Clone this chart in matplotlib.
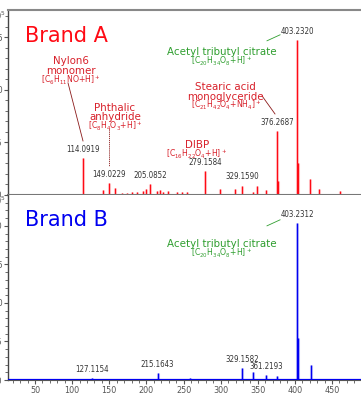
import matplotlib
matplotlib.use("Agg")
import matplotlib.pyplot as plt
from matplotlib.ticker import MultipleLocator
from matplotlib import font_manager as fm

# ---------------- data (intensity in units of 1e5) ----------------
top_mz = [114.09, 142, 149.02, 157.7, 166.7, 173.5, 180, 187, 195, 199.5, 205.09,
          214, 218.3, 222.8, 229.5, 240.8, 247.5, 254.3, 279.16, 299, 319.3, 329.16,
          344, 348.5, 361, 376.27, 377.3, 403.23, 404.2, 420.4, 432.5, 460.7, 472]
top_int = [0.35, 0.05, 0.11, 0.07, 0.02, 0.02, 0.03, 0.03, 0.04, 0.06, 0.10,
           0.04, 0.05, 0.03, 0.04, 0.03, 0.03, 0.03, 0.23, 0.06, 0.06, 0.09,
           0.03, 0.09, 0.05, 0.61, 0.13, 1.47, 0.30, 0.15, 0.06, 0.04, 0.01]
top_labels = ["114.0919", "149.0229", "205.0852", "279.1584", "329.1590", "376.2687", "403.2320"]
top_label_mz = [114.09, 149.02, 205.09, 279.16, 329.16, 376.27, 403.23]

bot_mz = [127.12, 137, 215.16, 258.7, 329.16, 343, 361.22, 376.3, 403.23, 404.2, 421]
bot_int = [0.02, 0.01, 0.09, 0.02, 0.16, 0.10, 0.06, 0.05, 2.04, 0.55, 0.19]
bot_labels = ["127.1154", "215.1643", "329.1582", "361.2193", "403.2312"]
bot_label_mz = [127.12, 215.16, 329.16, 361.22, 403.23]

xlim = (13.6, 489)
ylim_top = (0, 1.76)
ylim_bot = (0, 2.40)

RED = "#ff0a14"
ANN_RED = "#d8202a"
GREEN = "#2f9e2f"
BLUE = "#0000f0"
GRAY_TXT = "#333333"

# pick a condensed face for the small numeric labels
_fonts = fm.fontManager.ttflist
NARROW_KW = {"family": ["DejaVu Sans"]}
if any(f.name == "Liberation Sans Narrow" for f in _fonts):
    NARROW_KW = {"family": ["Liberation Sans Narrow", "DejaVu Sans"]}
elif any(f.name == "DejaVu Sans" and f.stretch in ("condensed", 300) for f in _fonts):
    NARROW_KW = {"family": ["DejaVu Sans"], "stretch": "condensed"}
NARROW_FS = 6.2 if "Liberation Sans Narrow" in NARROW_KW["family"] else 5.7

plt.rcParams["font.family"] = ["DejaVu Sans"]
plt.rcParams["mathtext.fontset"] = "dejavusans"

fig = plt.figure(figsize=(3.61, 3.98), dpi=100)
W, H = 361, 398
axA = fig.add_axes([8 / W, 1 - 195 / H, 1 - 8 / W, 185 / H])
axB = fig.add_axes([8 / W, 1 - 380 / H, 1 - 8 / W, 185 / H])

def style(ax, ylim):
    ax.set_xlim(*xlim)
    ax.set_ylim(*ylim)
    ax.xaxis.set_major_locator(MultipleLocator(50))
    ax.xaxis.set_minor_locator(MultipleLocator(10))
    ax.yaxis.set_major_locator(MultipleLocator(0.5))
    ax.yaxis.set_minor_locator(MultipleLocator(0.1))
    ax.spines["right"].set_visible(False)
    ax.spines["left"].set_color("#444444")
    ax.spines["left"].set_linewidth(1.0)
    ax.tick_params(axis="both", which="major", length=3, width=0.8, color="#555555",
                   labelsize=NARROW_FS + 0.8, labelcolor="#555555", pad=1)
    ax.tick_params(axis="both", which="minor", length=2, width=0.6, color="#555555")
    for lab in ax.get_xticklabels() + ax.get_yticklabels():
        lab.set_family(NARROW_KW["family"])
        if "stretch" in NARROW_KW:
            lab.set_stretch(NARROW_KW["stretch"])

style(axA, ylim_top)
style(axB, ylim_bot)

axA.spines["top"].set_color("#888888")
axA.spines["top"].set_linewidth(1.5)
axA.spines["bottom"].set_color("#777777")
axA.spines["bottom"].set_linewidth(1.5)
axA.tick_params(axis="x", which="both", bottom=False, labelbottom=False)
axB.spines["top"].set_visible(False)
axB.spines["bottom"].set_color("#555555")

# ---------------- spectra ----------------
axA.vlines(top_mz, 0, top_int, color=RED, lw=2.2, alpha=0.25)
axA.vlines(top_mz, 0, top_int, color=RED, lw=0.8)
axB.vlines(bot_mz, 0, bot_int, color=BLUE, lw=2.2, alpha=0.25)
axB.vlines(bot_mz, 0, bot_int, color=BLUE, lw=0.9)
axB.axhline(0, color=BLUE, lw=1.6, zorder=3)

# ---------------- peak labels ----------------
for ax, labs, lmz, mzs, ints in [(axA, top_labels, top_label_mz, top_mz, top_int),
                                 (axB, bot_labels, bot_label_mz, bot_mz, bot_int)]:
    for lab, m in zip(labs, lmz):
        h = ints[mzs.index(m)]
        ax.annotate(lab, (m, h), xytext=(0, 3), textcoords="offset points",
                    ha="center", va="bottom", fontsize=NARROW_FS, color=GRAY_TXT,
                    **NARROW_KW)

# y offset text
for ax in (axA, axB):
    ax.text(-0.005, 1.0, r"x10$^5$", transform=ax.transAxes, ha="right", va="top",
            fontsize=6, color="#555555")

# ---------------- annotations ----------------
axA.text(36.5, 1.51, "Brand A", color=RED, fontsize=15, ha="left", va="center")
axB.text(36.5, 2.08, "Brand B", color=BLUE, fontsize=15, ha="left", va="center")

name_fs = 7.4
form_fs = 5.6

axA.text(98.4, 1.23, "Nylon6\nmonomer", color=ANN_RED, fontsize=name_fs, ha="center",
         va="center", linespacing=0.95)
axA.text(98.4, 1.086, r"[C$_6$H$_{11}$NO+H]$^+$", color=ANN_RED, fontsize=form_fs,
         ha="center", va="center")
axA.plot([94.4, 114.6], [1.067, 0.514], color="#8b1a1a", lw=0.6)

axA.text(157.7, 0.786, "Phthalic\nanhydride", color=ANN_RED, fontsize=name_fs,
         ha="center", va="center", linespacing=0.95)
axA.text(157.7, 0.648, r"[C$_8$H$_4$O$_3$+H]$^+$", color=ANN_RED, fontsize=form_fs,
         ha="center", va="center")
axA.plot([149.6, 149.6], [0.63, 0.276], color="#8b1a1a", lw=0.6, ls=(0, (1.5, 1)))

axA.text(301.8, 1.362, "Acetyl tributyl citrate", color=GREEN, fontsize=name_fs,
         ha="center", va="center")
axA.text(301.8, 1.267, r"[C$_{20}$H$_{34}$O$_8$+H]$^+$", color=GREEN, fontsize=form_fs,
         ha="center", va="center")
axA.plot([362.4, 380], [1.467, 1.524], color=GREEN, lw=0.6)

axA.text(307, 0.98, "Stearic acid\nmonoglyceride", color=ANN_RED, fontsize=name_fs,
         ha="center", va="center", linespacing=0.95)
axA.text(307, 0.848, r"[C$_{21}$H$_{42}$O$_4$+NH$_4$]$^+$", color=ANN_RED,
         fontsize=form_fs, ha="center", va="center")
axA.plot([355.7, 373.2], [0.943, 0.771], color="#8b1a1a", lw=0.6)

axA.text(268, 0.476, "DIBP", color=ANN_RED, fontsize=name_fs, ha="center", va="center")
axA.text(268, 0.39, r"[C$_{16}$H$_{22}$O$_4$+H]$^+$", color=ANN_RED, fontsize=form_fs,
         ha="center", va="center")

axB.text(301.8, 1.766, "Acetyl tributyl citrate", color=GREEN, fontsize=name_fs,
         ha="center", va="center")
axB.text(301.8, 1.636, r"[C$_{20}$H$_{34}$O$_8$+H]$^+$", color=GREEN, fontsize=form_fs,
         ha="center", va="center")
axB.plot([362.4, 380], [2.0, 2.078], color=GREEN, lw=0.6)

fig.savefig("out.png", dpi=100)
